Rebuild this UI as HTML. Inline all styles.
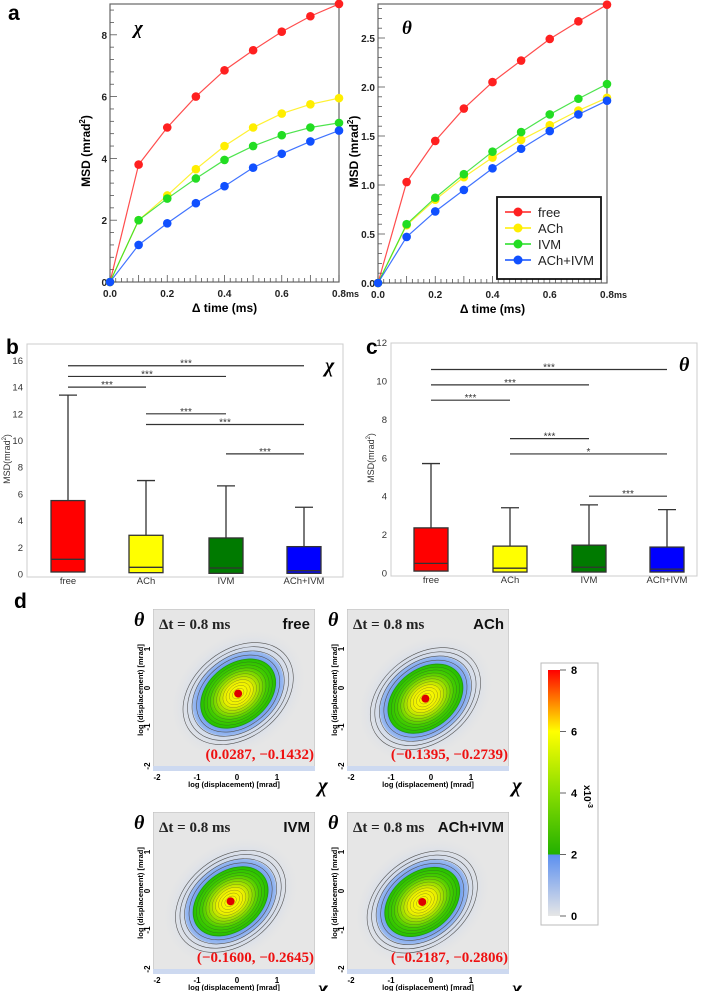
<!DOCTYPE html>
<html><head><meta charset="utf-8"><style>
html,body{margin:0;padding:0;background:#fff;}
svg{display:block;font-family:"Liberation Sans",sans-serif;}
</style></head><body>
<svg id="fig" width="708" height="991" viewBox="0 0 708 991" xmlns="http://www.w3.org/2000/svg">
<defs>
<linearGradient id="cbar" x1="0" y1="1" x2="0" y2="0">
<stop offset="0" stop-color="#e6e6e6"/><stop offset="0.25" stop-color="#5b8ff0"/><stop offset="0.25" stop-color="#22b000"/><stop offset="0.5" stop-color="#88dd00"/><stop offset="0.75" stop-color="#ffff00"/><stop offset="1" stop-color="#ff0000"/>
</linearGradient>
<radialGradient id="core"><stop offset="0" stop-color="#ffff00"/><stop offset="0.35" stop-color="#eef000"/><stop offset="0.75" stop-color="#44cc00"/><stop offset="1" stop-color="#22c000"/></radialGradient>
<radialGradient id="halo"><stop offset="0.6" stop-color="#3a78f0"/><stop offset="1" stop-color="#9dbcf0"/></radialGradient>
<radialGradient id="mist"><stop offset="0.5" stop-color="#b7cdf3"/><stop offset="1" stop-color="#e4e4e4" stop-opacity="0"/></radialGradient>
</defs>
<g id="root"></g>
</svg>
<script>
// ---- panel a data ----
const times = [0,0.1,0.2,0.3,0.4,0.5,0.6,0.7,0.8];
const seriesNames = ["free","ACh","IVM","ACh+IVM"];
const seriesColors = ["#ff2020","#ffee00","#22dd22","#1050ff"];
const chiFree = [0,3.8,5.0,6.0,6.85,7.5,8.1,8.6,9.0];
const chiACh = [0,2.0,2.8,3.65,4.4,5.0,5.45,5.75,5.95];
const chiIVM = [0,2.0,2.7,3.35,3.95,4.4,4.75,5.0,5.15];
const chiBoth = [0,1.2,1.9,2.55,3.1,3.7,4.15,4.55,4.9];
const thFree = [0,1.03,1.45,1.78,2.05,2.27,2.49,2.67,2.84];
const thACh = [0,0.59,0.85,1.08,1.28,1.46,1.61,1.76,1.89];
const thIVM = [0,0.6,0.87,1.11,1.34,1.54,1.72,1.88,2.03];
const thBoth = [0,0.47,0.73,0.95,1.17,1.37,1.55,1.72,1.86];
const xTicks = ["0.0","0.2","0.4","0.6","0.8"];
const chiTicks = [0,2,4,6,8];
const thTicks = ["0.0","0.5","1.0","1.5","2.0","2.5"];
// ---- panels b/c data ----
const groups = ["free","ACh","IVM","ACh+IVM"];
const boxColors = ["#ff0000","#ffff00","#007a00","#0000ff"];
const bWhisk = [13.4,7.0,6.6,5.0];
const bQ3 = [5.5,2.9,2.7,2.05];
const bMed = [1.1,0.5,0.45,0.25];
const bQ1 = [0.15,0.1,0.05,0.05];
const cWhisk = [5.7,3.4,3.55,3.3];
const cQ3 = [2.35,1.4,1.45,1.35];
const cMed = [0.5,0.25,0.3,0.2];
const cQ1 = [0.1,0.05,0.05,0.05];
const sigFrom = [0,0,0,1,1,2];
const sigTo = [1,2,3,2,3,3];
const bSigY = [14.0,14.8,15.6,12.0,11.2,9.0];
const bSigTxt = ["***","***","***","***","***","***"];
const cSigY = [9.0,9.8,10.6,7.0,6.2,4.0];
const cSigTxt = ["***","***","***","***","*","***"];
const bTicks = [0,2,4,6,8,10,12,14,16];
const cTicks = [0,2,4,6,8,10,12];
// ---- panel d data ----
const hmNames = ["free","ACh","IVM","ACh+IVM"];
const hmCx = [0.0287,-0.1395,-0.1600,-0.2187];
const hmCy = [-0.1432,-0.2739,-0.2645,-0.2806];
const hmLabels = ["(0.0287, \u22120.1432)","(\u22120.1395, \u22120.2739)","(\u22120.1600, \u22120.2645)","(\u22120.2187, \u22120.2806)"];
const cbTicks = [0,2,4,6,8];

const NS="http://www.w3.org/2000/svg";
const root=document.getElementById('root');
function el(tag,attrs,parent,text){const e=document.createElementNS(NS,tag);for(const k in attrs)e.setAttribute(k,attrs[k]);if(text!==undefined)e.textContent=text;(parent||root).appendChild(e);return e;}

[["a",8,20],["b",6,354],["c",366,354],["d",14,608]].forEach(p=>{
 const t=el('text',{x:p[1],y:p[2],'font-size':21,'font-weight':'bold'},root,p[0]);
 
 
});

function lineChart(id,x0,x1,y0,perUnit,yTop,series,tickVals,tickLabels,sym,legend,ylx){
 const g=el('g',{});
 
 
 const X=v=>x0+(x1-x0)*v/0.8, Y=v=>y0-v*perUnit;
 el('rect',{x:x0,y:yTop,width:x1-x0,height:y0-yTop,fill:'none',stroke:'#666','stroke-width':1.2},g);
 for(let i=0;i<=40;i++){const x=X(i*0.02);el('line',{x1:x,x2:x,y1:y0,y2:y0-(i%5==0?7:4),stroke:'#555','stroke-width':0.8},g);}
 const step=tickVals[1]-tickVals[0];
 for(let v=0;Y(v)>=yTop;v+=step/5){el('line',{x1:x0,x2:x0+(Math.abs(v/step-Math.round(v/step))<1e-6?7:4),y1:Y(v),y2:Y(v),stroke:'#555','stroke-width':0.8},g);}
 tickVals.forEach((v,i)=>{const t=el('text',{x:x0-3,y:Y(v)+4,'font-size':10,'font-weight':'bold','text-anchor':'end',fill:'#222'},g,tickLabels[i]);
  });
 xTicks.forEach((l,i)=>{const t=el('text',{x:X(i*0.2),y:y0+15,'font-size':10,'font-weight':'bold','text-anchor':'middle',fill:'#222'},g,l);
  });
 el('text',{x:x1+7,y:y0+15,'font-size':9,'font-weight':'bold',fill:'#222'},g,'ms');
 const xt=el('text',{x:(x0+x1)/2,y:y0+30,'font-size':12,'font-weight':'bold','text-anchor':'middle'},g,'\u0394 time (ms)');
 
 const yt=el('text',{transform:`translate(${ylx},${(y0+yTop)/2+8}) rotate(-90)`,'font-size':12,'font-weight':'bold','text-anchor':'middle'},g,'MSD (mrad');
 el('tspan',{dy:-5,'font-size':8},yt,'2');el('tspan',{dy:5},yt,')');
 
 el('text',{x:x0+24,y:yTop+30,'font-size':19,'font-style':'italic','font-weight':'bold','font-family':'"Liberation Serif",serif'},g,sym);
 series.forEach((s,k)=>{
  const pts=s.map((v,i)=>X(times[i])+','+Y(v)).join(' ');
  const pl=el('polyline',{points:pts,fill:'none',stroke:seriesColors[k],'stroke-width':1.2,opacity:0.8},g);
  
  s.forEach((v,i)=>{const c=el('circle',{cx:X(times[i]),cy:Y(v),r:4.3,fill:seriesColors[k]},g);
   });
 });
 if(legend){
  const lg=el('g',{},g);
  
  el('rect',{x:497,y:197,width:104,height:82,fill:'#fff',stroke:'#111','stroke-width':1.8},lg);
  seriesNames.forEach((n,k)=>{const y=212+k*16;
   const e=el('g',{},lg);
   el('line',{x1:505,x2:531,y1:y,y2:y,stroke:seriesColors[k],'stroke-width':1.5},e);
   el('circle',{cx:518,cy:y,r:4.5,fill:seriesColors[k]},e);
   el('text',{x:538,y:y+5,'font-size':13,fill:'#222'},e,n);});
 }
}
lineChart('chart-a-chi',110,339,282,30.9,4,[chiFree,chiACh,chiIVM,chiBoth],chiTicks,chiTicks.map(String),'\u03c7',false,90);
lineChart('chart-a-theta',378,607,283,98,4,[thFree,thACh,thIVM,thBoth],[0,0.5,1,1.5,2,2.5],thTicks,'\u03b8',true,358);

function boxChart(id,left,right,top,y0,perUnit,xs,wh,q3,md,q1,sy,stxt,ticks,sym){
 const g=el('g',{});
 const Y=v=>y0-v*perUnit;
 el('rect',{x:left,y:top,width:right-left,height:y0+3-top,fill:'none',stroke:'#ccc','stroke-width':1},g);
 ticks.forEach(v=>{const t=el('text',{x:left-4,y:Y(v)+3.5,'font-size':9.5,'text-anchor':'end',fill:'#333'},g,String(v));
  });
 const yt=el('text',{transform:`translate(${left-17},${(top+y0)/2}) rotate(-90)`,'font-size':9,'text-anchor':'middle',fill:'#333'},g,'MSD(mrad');
 el('tspan',{dy:-4,'font-size':6},yt,'2');el('tspan',{dy:4},yt,')');
 
 groups.forEach((n,i)=>{const x=xs[i],w=34;
  const b=el('g',{},g);
  el('line',{x1:x,x2:x,y1:Y(wh[i]),y2:Y(q3[i]),stroke:'#333','stroke-width':1.3},b);
  el('line',{x1:x-9,x2:x+9,y1:Y(wh[i]),y2:Y(wh[i]),stroke:'#333','stroke-width':1.3},b);
  el('rect',{x:x-w/2,y:Y(q3[i]),width:w,height:Y(q1[i])-Y(q3[i]),fill:boxColors[i],stroke:'#333','stroke-width':1.3},b);
  el('line',{x1:x-w/2,x2:x+w/2,y1:Y(md[i]),y2:Y(md[i]),stroke:'#333','stroke-width':1.3},b);
  const t=el('text',{x:x,y:y0+10,'font-size':9.5,'text-anchor':'middle',fill:'#333'},g,n);
  });
 sy.forEach((v,k)=>{const xa=xs[sigFrom[k]],xb=xs[sigTo[k]];
  const s=el('g',{},g);
  el('line',{x1:xa,x2:xb,y1:Y(v),y2:Y(v),stroke:'#333','stroke-width':1.2},s);
  el('text',{x:(xa+xb)/2,y:Y(v)+1,'font-size':10,'text-anchor':'middle',fill:'#333'},s,stxt[k]);});
 el('text',{x:right-18,y:top+28,'font-size':20,'font-style':'italic','font-weight':'bold','font-family':'"Liberation Serif",serif'},g,sym);
}
boxChart('chart-b',27,343,344,574,13.35,[68,146,226,304],bWhisk,bQ3,bMed,bQ1,bSigY,bSigTxt,bTicks,'\u03c7');
boxChart('chart-c',391,697,343,573,19.2,[431,510,589,667],cWhisk,cQ3,cMed,cQ1,cSigY,cSigTxt,cTicks,'\u03b8');

const hmPos=[[153,609],[347,609],[153,812],[347,812]];
hmNames.forEach((n,i)=>{
 const [px,py]=hmPos[i],W=162,H=162;
 const U=40,X=v=>px+84+v*U,Y=v=>py+79-v*39;
 const g=el('g',{});
 const cid='clip'+i;const cp=el('clipPath',{id:cid},g);el('rect',{x:px,y:py,width:W,height:H},cp);
 const inner=el('g',{'clip-path':`url(#${cid})`},g);
 el('rect',{x:px,y:py,width:W,height:H,fill:'#e6e6e6',stroke:'#bbb'},inner);
 const cx=X(hmCx[i]),cy=Y(hmCy[i]);
 el('rect',{x:px,y:py+H-5,width:W,height:5,fill:'#cdd9f0'},inner);
 const tr=`rotate(-38 ${cx} ${cy})`;
 el('ellipse',{cx:cx,cy:cy,rx:75,ry:58,fill:'url(#mist)',transform:tr},inner);
 el('ellipse',{cx:cx,cy:cy,rx:50,ry:37,fill:'url(#halo)',transform:tr},inner);
 el('ellipse',{cx:cx,cy:cy,rx:42,ry:30,fill:'url(#core)',transform:tr},inner);
 for(let r=1;r<=11;r++){el('ellipse',{cx:cx,cy:cy,rx:3+r*3.5,ry:2+r*2.5,fill:'none',stroke:'#333','stroke-width':0.4,opacity:0.55,transform:tr},inner);}
 [46,51,56,61].forEach(r=>el('ellipse',{cx:cx,cy:cy,rx:r,ry:r*0.72,fill:'none',stroke:'#555','stroke-width':0.6,transform:tr},inner));
 const dot=el('circle',{cx:cx,cy:cy,r:4,fill:'#dd0000'},inner);
 
 el('text',{x:px+6,y:py+20,'font-size':15,'font-family':'"Liberation Serif",serif','font-weight':'bold',fill:'#222'},g,'\u0394t = 0.8 ms');
 el('text',{x:px+W-5,y:py+20,'font-size':15,'font-weight':'bold','text-anchor':'end',fill:'#111'},g,n);
 const lb=el('text',{x:px+W-1,y:py+H-12,'font-size':15,'font-weight':'bold','font-family':'"Liberation Serif",serif','text-anchor':'end',fill:'#ee1111'},g,hmLabels[i]);
 
 [-2,-1,0,1].forEach(v=>{el('text',{x:X(v),y:py+H+9,'font-size':8,'font-weight':'bold','text-anchor':'middle'},g,String(v));
  el('text',{transform:`translate(${px-3},${Y(v)}) rotate(-90)`,'font-size':8,'font-weight':'bold','text-anchor':'middle'},g,String(v));});
 el('text',{x:px+W/2,y:py+H+16,'font-size':7.5,'font-weight':'bold','text-anchor':'middle'},g,'log (displacement) [mrad]');
 el('text',{transform:`translate(${px-10},${py+H/2}) rotate(-90)`,'font-size':7.5,'font-weight':'bold','text-anchor':'middle'},g,'log (displacement) [mrad]');
 el('text',{x:px+W+3,y:py+H+21,'font-size':21,'font-style':'italic','font-weight':'bold','font-family':'"Liberation Serif",serif'},g,'\u03c7');
 el('text',{x:px-19,y:py+17,'font-size':20,'font-style':'italic','font-weight':'bold','font-family':'"Liberation Serif",serif'},g,'\u03b8');
});

const cbg=el('g',{});
el('rect',{x:541,y:663,width:57,height:262,fill:'#fff',stroke:'#bbb'},cbg);
const cbY=v=>916-v*30.75;
el('rect',{x:548,y:cbY(8),width:12,height:cbY(0)-cbY(8),fill:'url(#cbar)'},cbg);
cbTicks.forEach(v=>{el('line',{x1:560,x2:566,y1:cbY(v),y2:cbY(v),stroke:'#666'},cbg);
 const t=el('text',{x:571,y:cbY(v)+4,'font-size':11,'font-weight':'bold'},cbg,String(v));
 });
const ex=el('text',{transform:'translate(584,785) rotate(90)','font-size':10,'font-weight':'bold'},cbg,'x10');
el('tspan',{dy:-4,'font-size':7},ex,'-3');
</script>
</body></html>
